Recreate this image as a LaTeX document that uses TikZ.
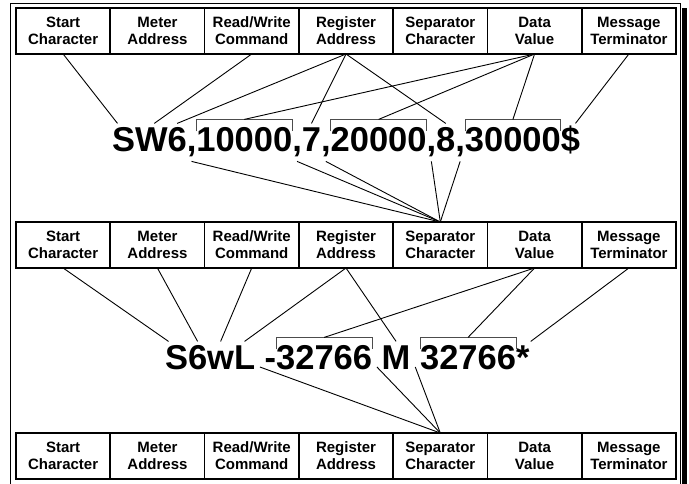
\documentclass[tikz,border=0pt]{standalone}
\usepackage{fontspec}
\setmainfont{Liberation Sans}
\usetikzlibrary{positioning}

\tikzset{
  field/.style={draw, line width=1.6pt, minimum width=94.29pt, minimum height=46pt,
    inner sep=0pt, outer sep=0pt, align=center, font=\fontsize{15}{17}\selectfont\bfseries},
  glyph/.style={inner sep=0pt, outer sep=0pt, text height=27.6pt, text depth=10.4pt,
    font=\fontsize{34.5}{40}\selectfont\bfseries},
  gap/.style={glyph, minimum width=9.6pt},
  wire/.style={line width=0.9pt},
  bracket/.style={draw=black!70, line width=0.8pt},
}
% gray bracket over a number
\newcommand{\numbracket}[1]{\draw[bracket] ([yshift=-8]#1.north west) -- ([yshift=4]#1.north west) -- ([yshift=4]#1.north east) -- ([yshift=-8]#1.north east);}

\begin{document}
\begin{tikzpicture}[x=1pt, y=-1pt]
    \useasboundingbox (0,0) rectangle (689,483);
    \draw[line width=0.8pt] (10.5,3) rectangle (680,495);
    \fill (682,8) rectangle (687,495);

    % three rows of fields
    \foreach \r/\y in {1/31, 2/245, 3/456} {
        \node[field] (start\r) at (63.14,\y) {Start\\Character};
        \node[field, right=0pt of start\r] (meter\r) {Meter\\Address};
        \node[field, right=0pt of meter\r] (rw\r) {Read/Write\\Command};
        \node[field, right=0pt of rw\r] (reg\r) {Register\\Address};
        \node[field, right=0pt of reg\r] (sep\r) {Separator\\Character};
        \node[field, right=0pt of sep\r] (data\r) {Data\\Value};
        \node[field, right=0pt of data\r] (term\r) {Message\\Terminator};
    }

    % first message
    \node[glyph, anchor=base west] (aS) at (112,151) {S};
    \node[glyph, right=0pt of aS] (aW) {W};
    \node[glyph, right=0pt of aW] (a6) {6};
    \node[glyph, right=0pt of a6] (ac1) {,};
    \node[glyph, right=0pt of ac1] (an1) {10000};
    \node[glyph, right=0pt of an1] (ac2) {,};
    \node[glyph, right=0pt of ac2] (a7) {7};
    \node[glyph, right=0pt of a7] (ac3) {,};
    \node[glyph, right=0pt of ac3] (an2) {20000};
    \node[glyph, right=0pt of an2] (ac4) {,};
    \node[glyph, right=0pt of ac4] (a8) {8};
    \node[glyph, right=0pt of a8] (ac5) {,};
    \node[glyph, right=0pt of ac5] (an3) {30000};
    \node[glyph, right=0pt of an3] (adol) {\$};
    \numbracket{an1}
    \numbracket{an2}
    \numbracket{an3}

    \draw[wire] (start1.south) -- ([xshift=-6]aS.north);
    \draw[wire] (rw1.south) -- ([xshift=3]aW.north);
    \draw[wire] (reg1.south) -- (a6.north);
    \draw[wire] (reg1.south) -- (a7.north);
    \draw[wire] (reg1.south) -- (a8.north);
    \draw[wire] (data1.south) -- ([yshift=4]an1.north);
    \draw[wire] (data1.south) -- ([yshift=4]an2.north);
    \draw[wire] (data1.south) -- ([yshift=4]an3.north);
    \draw[wire] (term1.south) -- ([xshift=5]adol.north);
    \draw[wire] (ac1.south) -- (sep2.north);
    \draw[wire] (ac2.south) -- (sep2.north);
    \draw[wire] (ac3.south) -- (sep2.north);
    \draw[wire] (ac4.south) -- (sep2.north);
    \draw[wire] (ac5.south) -- (sep2.north);

    % second message
    \node[glyph, anchor=base west] (bS) at (165,369) {S};
    \node[glyph, right=0pt of bS] (b6) {6};
    \node[glyph, right=0pt of b6] (bw) {w};
    \node[glyph, right=0pt of bw] (bL) {L};
    \node[gap, right=0pt of bL] (bsp1) {};
    \node[glyph, right=0pt of bsp1] (bdash) {-};
    \node[glyph, right=0pt of bdash] (bn1) {32766};
    \node[gap, right=0pt of bn1] (bsp2) {};
    \node[glyph, right=0pt of bsp2] (bM) {M};
    \node[gap, right=0pt of bM] (bsp3) {};
    \node[glyph, right=0pt of bsp3] (bn2) {32766};
    \node[glyph, right=0pt of bn2] (bstar) {*};
    \numbracket{bn1}
    \numbracket{bn2}

    \draw[wire] (start2.south) -- ([xshift=-8]bS.north);
    \draw[wire] (meter2.south) -- (b6.north);
    \draw[wire] (rw2.south) -- (bw.north);
    \draw[wire] (reg2.south) -- (bL.north);
    \draw[wire] (reg2.south) -- (bM.north);
    \draw[wire] (data2.south) -- ([yshift=4]bn1.north);
    \draw[wire] (data2.south) -- ([yshift=4]bn2.north);
    \draw[wire] (term2.south) -- ([xshift=8]bstar.north);
    \draw[wire] ([yshift=2]bsp1.base) -- (sep3.north);
    \draw[wire] ([yshift=2]bsp2.base) -- (sep3.north);
    \draw[wire] ([yshift=2]bsp3.base) -- (sep3.north);
\end{tikzpicture}
\end{document}
